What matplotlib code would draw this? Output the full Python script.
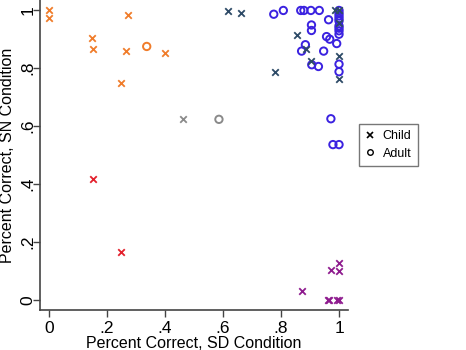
import matplotlib
matplotlib.use('Agg')
import matplotlib.pyplot as plt
from matplotlib.lines import Line2D

plt.rcParams['font.family'] = ['Liberation Sans', 'DejaVu Sans']

# Percent correct: SD condition (x) and SN condition (y), by cluster
orange_child_sd = [0.0, 0.0, 0.149, 0.153, 0.267, 0.271, 0.248, 0.400]
orange_child_sn = [1.0, 0.973, 0.903, 0.864, 0.860, 0.983, 0.747, 0.852]
orange_adult_sd = [0.337]
orange_adult_sn = [0.874]

gray_child_sd = [0.461]
gray_child_sn = [0.623]
gray_adult_sd = [0.586]
gray_adult_sn = [0.623]

red_child_sd = [0.153, 0.247]
red_child_sn = [0.418, 0.166]

purple_child_sd = [1.0, 0.971, 1.0, 0.872, 0.961, 0.966, 0.994, 1.0]
purple_child_sn = [0.128, 0.103, 0.101, 0.032, 0.0, 0.0, 0.0, 0.002]

blue_child_sd = [0.618, 0.662, 0.986, 0.854, 0.886, 1.0, 0.903, 0.778, 1.0, 1.0, 1.0]
blue_child_sn = [0.997, 0.989, 1.0, 0.912, 0.864, 0.841, 0.825, 0.786, 0.761, 1.0, 0.954]
blue_adult_sd = [0.775, 0.808, 0.868, 0.879, 0.903, 0.932,
                 1.0, 1.0, 1.0, 1.0, 1.0, 1.0, 1.0, 1.0, 1.0,
                 0.905, 0.905, 0.964, 0.957, 0.968, 0.992, 0.884, 0.871,
                 0.947, 0.906, 0.929, 1.0, 1.0, 0.972, 0.979, 1.0]
blue_adult_sn = [0.985, 0.998, 0.998, 0.998, 0.998, 0.998,
                 0.998, 0.988, 0.979, 0.970, 0.962, 0.945, 0.937, 0.928, 0.916,
                 0.948, 0.929, 0.966, 0.908, 0.899, 0.884, 0.880, 0.858,
                 0.858, 0.811, 0.805, 0.813, 0.787, 0.625, 0.536, 0.536]

ticks = [0, 0.2, 0.4, 0.6, 0.8, 1.0]
tick_labels = ['0', '.2', '.4', '.6', '.8', '1']

c_orange = '#F07C2A'
c_gray = '#8A8A8A'
c_red = '#E3202C'
c_purple = '#8E1B8E'
c_dark = '#2D4A66'
c_blue = '#3B22E0'

fig = plt.figure(figsize=(4.66, 3.5), dpi=100)
ax = fig.add_axes([0.0858, 0.114, 0.661, 0.886])

xkw = dict(marker='x', s=22, linewidths=1.3)
okw = dict(marker='o', s=28, facecolors='none', linewidths=1.4)

ax.scatter(orange_child_sd, orange_child_sn, color=c_orange, **xkw)
ax.scatter(orange_adult_sd, orange_adult_sn, edgecolors=c_orange, **okw)
ax.scatter(gray_child_sd, gray_child_sn, color=c_gray, **xkw)
ax.scatter(gray_adult_sd, gray_adult_sn, edgecolors=c_gray, **okw)
ax.scatter(red_child_sd, red_child_sn, color=c_red, **xkw)
ax.scatter(purple_child_sd, purple_child_sn, color=c_purple, **xkw)
ax.scatter(blue_adult_sd, blue_adult_sn, edgecolors=c_blue, **okw)
ax.scatter(blue_child_sd, blue_child_sn, color=c_dark, **xkw)

ax.set_xlim(-0.031, 1.031)
ax.set_ylim(-0.034, 1.034)
ax.set_xticks(ticks)
ax.set_xticklabels(tick_labels)
ax.set_yticks(ticks)
ax.set_yticklabels(tick_labels, rotation=90, va='center')
ax.tick_params(labelsize=12.5, length=5, width=1, color='#444444')
ax.tick_params(axis='y', pad=-2)
ax.tick_params(axis='x', pad=3)
for side in ['top', 'right']:
    ax.spines[side].set_visible(False)
for side in ['left', 'bottom']:
    ax.spines[side].set_color('#444444')
    ax.spines[side].set_linewidth(1.2)

ax.set_xlabel('Percent Correct, SD Condition', fontsize=11.5)
ax.set_ylabel('Percent Correct, SN Condition', fontsize=11.5)
ax.xaxis.set_label_coords(0.5, -0.082)
ax.yaxis.set_label_coords(-0.104, 0.5)
ax.yaxis.label.set_va('center')

handles = [
    Line2D([], [], marker='x', linestyle='none', color='black', markersize=4, markeredgewidth=1.2),
    Line2D([], [], marker='o', linestyle='none', color='black', markerfacecolor='none',
           markersize=4, markeredgewidth=1.0),
]
fig.legend(handles, ['Child', 'Adult'], loc='upper left', bbox_to_anchor=(0.770, 0.646),
           fontsize=9, frameon=True, fancybox=False, edgecolor='#555555',
           handlelength=0.8, handletextpad=0.6, borderpad=0.5, labelspacing=0.45,
           borderaxespad=0)

fig.savefig('out.png', dpi=100)
